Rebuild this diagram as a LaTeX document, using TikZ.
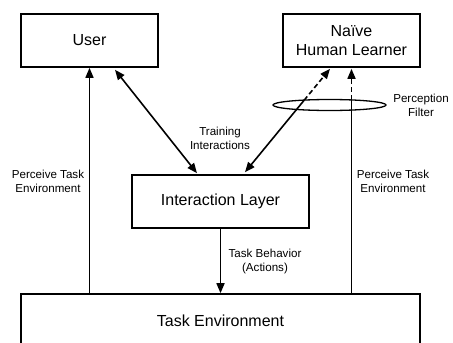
\documentclass[tikz,border=0pt]{standalone}
\usepackage{fontspec}
\setmainfont{Liberation Sans}
\usetikzlibrary{arrows.meta,calc,shapes.geometric}

\tikzset{
  box/.style={draw, line width=1.6pt, rectangle, align=center, inner sep=0pt,
              font=\fontsize{16}{19}\selectfont},
  lbl/.style={align=center, inner sep=0pt, font=\fontsize{11.6}{14}\selectfont},
  conn/.style={line width=1.6pt, -{Triangle[length=10pt,width=8pt]}},
  biconn/.style={line width=1.6pt, {Triangle[length=10pt,width=8pt]}-{Triangle[length=10pt,width=8pt]}},
  dashpart/.style={dash pattern=on 5pt off 3pt},
}

\begin{document}
\begin{tikzpicture}[x=1pt,y=-1pt]
  \useasboundingbox (0,0) rectangle (453,343);

  % boxes
  \node[box, minimum width=137pt, minimum height=53pt] (user) at (89.5,40.5) {User};
  \node[box, minimum width=137pt, minimum height=53pt] (naive) at (351.5,40.5) {Naïve\\Human Learner};
  \node[box, minimum width=177pt, minimum height=53pt] (inter) at (220.5,201.5) {Interaction Layer};
  \node[box, minimum width=399pt, minimum height=60pt] (env) at (220.5,324) {\raisebox{7pt}{Task Environment}};

  % perception filter ring
  \node[draw, ellipse, line width=1.3pt, minimum width=113pt, minimum height=11pt, inner sep=0pt] (filt) at (329.5,105) {};

  % user perceives the task environment
  \draw[conn] (user.south |- env.north) -- (user.south);

  % training interactions between user and interaction layer
  \coordinate (uA) at ($(user.south)+(25.5,2)$);
  \coordinate (iA) at ($(inter.north)+(-23.5,-1)$);
  \draw[biconn] (uA) -- (iA);

  % interactions between layer and learner, filtered above the ring
  \coordinate (iB) at ($(inter.north)+(24.5,-2)$);
  \coordinate (nB) at ($(naive.south)+(-21.5,1)$);
  \coordinate (brkB) at ($(iB)!0.695!(nB)$);
  \draw[conn] (brkB) -- (iB);
  \draw[conn, dashpart] (brkB) -- (nB);

  % learner perceives the task environment through the filter
  \coordinate (brkC) at (naive.south |- 0,100);
  \draw[line width=1.6pt] (naive.south |- env.north) -- (brkC);
  \draw[conn, dashpart] (brkC) -- ($(naive.south)+(0,1)$);

  % task behaviour into the environment
  \draw[conn] (inter.south) -- (inter.south |- env.north);

  % labels
  \node[lbl] (lTrain) at (220,138) {Training\\Interactions};
  \node[lbl] (lPercL) at (48,181) {Perceive Task\\Environment};
  \node[lbl] (lPercR) at (393,181) {Perceive Task\\Environment};
  \node[lbl] (lFilt) at (421,105) {Perception\\Filter};
  \node[lbl] (lBeh) at (265,261) {Task Behavior\\(Actions)};
\end{tikzpicture}
\end{document}
